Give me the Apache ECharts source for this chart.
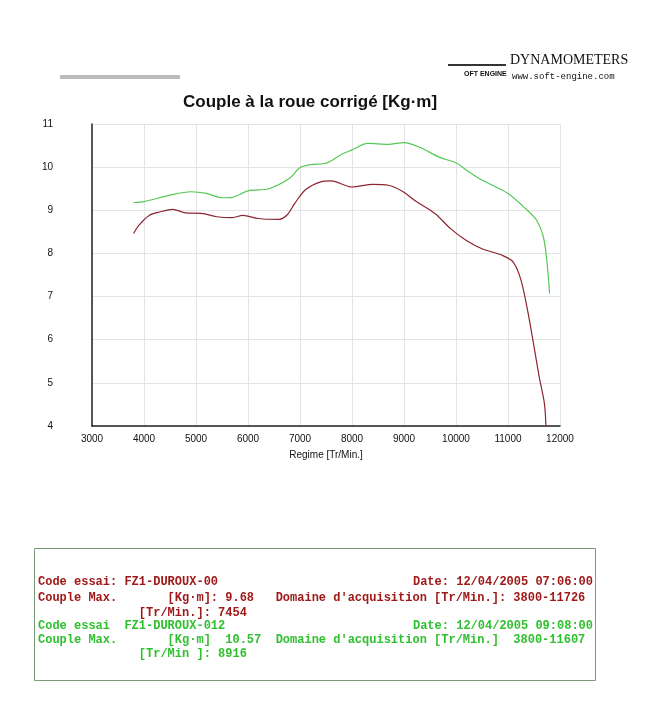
<!DOCTYPE html>
<html><head><meta charset="utf-8">
<script src="https://cdn.jsdelivr.net/npm/echarts@6/dist/echarts.min.js"></script>
<style>html,body{margin:0;padding:0;background:#fff}#c{width:659px;height:720px}</style>
</head><body><div id="c"></div>
<script>
const redX=[3800,3900,4100,4300,4550,4800,5100,5400,5700,5900,6200,6600,6750,6900,7100,7400,7600,8000,8400,8700,9000,9200,9600,9900,10200,10500,10900,11100,11250,11400,11600,11700,11730];
const redY=[8.46,8.65,8.88,8.96,9.02,8.94,8.93,8.85,8.83,8.88,8.81,8.79,8.89,9.16,9.47,9.66,9.68,9.54,9.6,9.58,9.42,9.23,8.92,8.57,8.3,8.11,7.95,7.8,7.38,6.53,5.14,4.52,4.0];
const greenX=[3800,4000,4500,4900,5200,5500,5700,6000,6400,6800,7000,7200,7500,7800,8000,8300,8700,9000,9300,9700,10000,10200,10500,11000,11300,11550,11700,11800];
const greenY=[9.18,9.2,9.35,9.43,9.39,9.29,9.3,9.45,9.5,9.74,9.99,10.06,10.09,10.3,10.4,10.55,10.53,10.57,10.46,10.22,10.1,9.93,9.7,9.39,9.08,8.77,8.27,7.07];
const mono='"Liberation Mono", "DejaVu Sans Mono", monospace';
const red='#a01818', green='#2fc02f';
const chart=echarts.init(document.getElementById('c'));
function t(x,y,s,fill,right){const o={type:'text',top:y,style:{text:s,fill:fill,font:'bold 12px '+mono}};if(right)o.right=x;else o.left=x;return o;}
chart.setOption({
 animation:false,
 title:{text:'Couple à la roue corrigé [Kg·m]',left:178,top:89,textStyle:{fontFamily:'Liberation Sans',fontSize:17,fontWeight:'bold',color:'#111'}},
 grid:{left:92,right:99,top:124,bottom:294},
 xAxis:{type:'value',min:3000,max:12000,interval:1000,name:'Regime [Tr/Min.]',nameLocation:'middle',nameGap:24,
   nameTextStyle:{fontFamily:'Liberation Sans',fontSize:10,color:'#111'},
   axisLine:{lineStyle:{color:'#222',width:1.5}},axisTick:{show:false},
   axisLabel:{fontFamily:'Liberation Sans',fontSize:10,color:'#111',margin:8,formatter:v=>String(v)},
   splitLine:{lineStyle:{color:'#e4e4e4'}}},
 yAxis:{type:'value',min:4,max:11,interval:1,
   axisLine:{show:true,lineStyle:{color:'#222',width:1.5}},axisTick:{show:false},
   axisLabel:{fontFamily:'Liberation Sans',fontSize:10,color:'#111',margin:39,align:'right'},
   splitLine:{lineStyle:{color:'#e4e4e4'}}},
 series:[
  {type:'line',data:greenX.map((x,i)=>[x,greenY[i]]),smooth:0.3,showSymbol:false,lineStyle:{color:'#55c855',width:1.2}},
  {type:'line',data:redX.map((x,i)=>[x,redY[i]]),smooth:0.3,showSymbol:false,lineStyle:{color:'#8c2530',width:1.2}}
 ],
 graphic:[
  {type:'text',left:510,top:53,style:{text:'DYNAMOMETERS',fill:'#111',font:'14px "Liberation Serif", serif'}},
  {type:'text',left:464,top:71,style:{text:'OFT ENGINE',fill:'#111',font:'bold 7px "Liberation Sans"'}},
  {type:'text',left:512,top:72,style:{text:'www.soft-engine.com',fill:'#111',font:'9px '+mono}},
  {type:'rect',shape:{x:448,y:64,width:58,height:2},style:{fill:'#333'}},
  {type:'rect',shape:{x:60,y:75,width:120,height:4},style:{fill:'#bbb'}},
  {type:'rect',shape:{x:34.5,y:548.5,width:561,height:132},style:{fill:'none',stroke:'#7a9a7a',lineWidth:1}},
  t(38,576,'Code essai: FZ1-DUROUX-00',red),
  t(66,576,'Date: 12/04/2005 07:06:00',red,true),
  t(38,592,'Couple Max.       [Kg·m]: 9.68   Domaine d\'acquisition [Tr/Min.]: 3800-11726',red),
  t(38,607,'              [Tr/Min.]: 7454',red),
  t(38,620,'Code essai  FZ1-DUROUX-012',green),
  t(66,620,'Date: 12/04/2005 09:08:00',green,true),
  t(38,634,'Couple Max.       [Kg·m]  10.57  Domaine d\'acquisition [Tr/Min.]  3800-11607',green),
  t(38,648,'              [Tr/Min ]: 8916',green)
 ]
});
</script></body></html>
